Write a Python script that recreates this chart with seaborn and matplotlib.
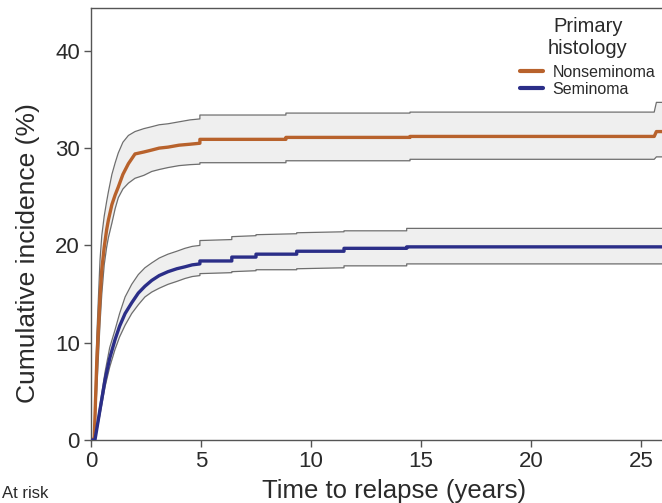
import matplotlib
matplotlib.use("Agg")
import matplotlib.pyplot as plt
import numpy as np
import pandas as pd
import seaborn as sns

# Nonseminoma cumulative incidence (%) with 95% band (repeated times = steps)
t_nonsem = [0, 0.1, 0.15, 0.26, 0.41, 0.49, 0.6, 0.71, 0.79, 0.95,
            1.1, 1.24, 1.45, 1.7, 2.0, 2.4, 2.76, 3.1, 3.5, 4.0,
            4.5, 4.95, 4.95, 8.86, 8.86, 14.5, 14.5, 25.6, 25.7, 26.5]
y_nonsem = [0, 0, 0.3, 7.9, 14.7, 17.5, 19.8, 21.6, 22.6, 24.2,
            25.2, 26.0, 27.3, 28.4, 29.4, 29.6, 29.8, 30.0, 30.1, 30.3,
            30.4, 30.5, 30.9, 30.9, 31.1, 31.1, 31.2, 31.2, 31.7, 31.7]
hi_nonsem = [0, 0, 1.0, 10.5, 18.5, 21.0, 23.0, 24.5, 25.5, 27.3,
             28.5, 29.5, 30.6, 31.3, 31.7, 32.0, 32.2, 32.4, 32.5, 32.7,
             32.9, 33.0, 33.4, 33.4, 33.6, 33.6, 33.7, 33.7, 34.7, 34.7]
lo_nonsem = [0, 0, 0, 5.0, 12.0, 15.0, 18.0, 19.8, 20.8, 22.3,
             23.8, 24.9, 25.8, 26.4, 26.9, 27.2, 27.6, 27.8, 28.0, 28.2,
             28.3, 28.35, 28.5, 28.5, 28.7, 28.7, 28.85, 28.85, 29.1, 29.1]

# Seminoma
t_sem = [0, 0.18, 0.4, 0.64, 0.85, 1.09, 1.3, 1.55, 1.85, 2.15,
         2.45, 2.76, 3.1, 3.5, 3.9, 4.27, 4.6, 4.95, 4.95, 6.4,
         6.4, 7.5, 7.5, 9.35, 9.35, 11.5, 11.5, 14.35, 14.35, 26.5]
y_sem = [0, 0, 3.0, 6.2, 8.4, 10.3, 11.7, 13.0, 14.1, 15.1,
         15.8, 16.4, 16.9, 17.3, 17.6, 17.8, 18.0, 18.1, 18.4, 18.4,
         18.8, 18.8, 19.1, 19.1, 19.4, 19.4, 19.7, 19.7, 19.85, 19.85]
hi_sem = [0, 0, 3.5, 7.0, 9.5, 11.3, 13.0, 14.7, 16.0, 17.0,
          17.7, 18.2, 18.7, 19.1, 19.4, 19.7, 19.9, 20.0, 20.5, 20.6,
          20.9, 21.0, 21.1, 21.2, 21.3, 21.4, 21.5, 21.5, 21.75, 21.75]
lo_sem = [0, 0, 2.5, 5.5, 7.5, 9.3, 10.6, 11.8, 13.0, 13.9,
          14.7, 15.2, 15.6, 16.0, 16.3, 16.6, 16.8, 16.9, 17.1, 17.2,
          17.3, 17.4, 17.5, 17.5, 17.6, 17.7, 17.9, 17.9, 18.1, 18.1]

groups = ["Nonseminoma", "Seminoma"]
colors = {"Nonseminoma": "#b8622c", "Seminoma": "#2b2e88"}

df = pd.concat([
    pd.DataFrame({"time": t_nonsem, "inc": y_nonsem, "lo": lo_nonsem, "hi": hi_nonsem,
                  "histology": "Nonseminoma"}),
    pd.DataFrame({"time": t_sem, "inc": y_sem, "lo": lo_sem, "hi": hi_sem,
                  "histology": "Seminoma"}),
], ignore_index=True)

sns.set_theme(style="ticks")
plt.rcParams["font.family"] = ["Liberation Sans", "DejaVu Sans"]
txt = "#2a2a2a"

fig = plt.figure(figsize=(6.62, 5.03), dpi=100)
ax = fig.add_axes([91 / 662, 63 / 503, 583 / 662, 432 / 503])

for g in groups:
    d = df[df.histology == g]
    ax.fill_between(d.time, d.lo, d.hi, color="#efefef", lw=0, zorder=1)
    for col in ["lo", "hi"]:
        sns.lineplot(data=d, x="time", y=col, ax=ax, color="#6e6e6e", lw=0.9,
                     estimator=None, sort=False, legend=False, zorder=2)

sns.lineplot(data=df, x="time", y="inc", hue="histology", hue_order=groups,
             palette=colors, lw=2.4, estimator=None, sort=False, ax=ax, zorder=3)

ax.set_xlim(0, 26.5)
ax.set_ylim(0, 44.4)
ax.set_xticks([0, 5, 10, 15, 20, 25])
ax.set_yticks([0, 10, 20, 30, 40])
ax.tick_params(axis="both", labelsize=16, colors="#555555", labelcolor=txt,
               length=5, width=1, pad=3)
ax.set_xlabel("Time to relapse (years)", fontsize=18.5, color=txt)
ax.set_ylabel("Cumulative incidence (%)", fontsize=19, color=txt)
ax.xaxis.set_label_coords(0.52, -0.09)
ax.yaxis.set_label_coords(-0.088, 0.433)
for s in ["left", "bottom", "top"]:
    ax.spines[s].set_color("#555555")
    ax.spines[s].set_linewidth(1)
ax.spines["top"].set_visible(True)
ax.spines["right"].set_visible(False)

leg = ax.legend(title="Primary\nhistology", frameon=False, loc="upper right",
                bbox_to_anchor=(655 / 662, 1 - 17 / 503), bbox_transform=fig.transFigure,
                fontsize=11.5, title_fontsize=14.5, handlelength=1.4, handletextpad=0.6,
                labelspacing=0.1, borderaxespad=0, borderpad=0)
leg.get_title().set_color(txt)
leg.get_title().set_multialignment("center")
leg._legend_box.sep = 5
for t in leg.get_texts():
    t.set_color(txt)
for h in leg.legend_handles:
    h.set_linewidth(3)

fig.text(2 / 662, 2 / 503, "At risk", fontsize=12, color=txt, va="bottom", ha="left")

fig.savefig("out.png", dpi=100)
